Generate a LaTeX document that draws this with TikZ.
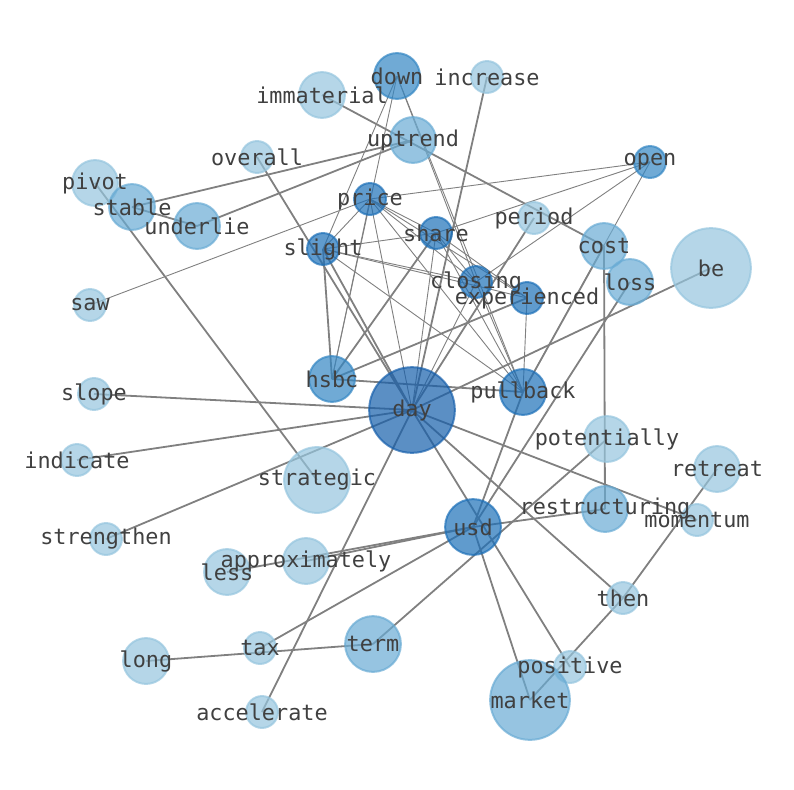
\documentclass[tikz,border=0pt]{standalone}
\usepackage{fontspec}
\setmonofont{DejaVu Sans Mono}
\usepackage{tikz}
\pgfdeclarelayer{background}
\pgfsetlayers{background,main}
\definecolor{blueA}{RGB}{149,197,222}
\definecolor{blueB}{RGB}{105,171,212}
\definecolor{blueC}{RGB}{51,134,195}
\definecolor{blueD}{RGB}{29,112,184}
\definecolor{blueE}{RGB}{22,95,171}

\begin{document}
\begin{tikzpicture}[x=1bp,y=-1bp,
  tok/.style={circle,minimum size=#1,inner sep=0pt,line width=2bp,draw opacity=.7,fill opacity=.7},
  cA/.style={draw=blueA,fill=blueA},
  cB/.style={draw=blueB,fill=blueB},
  cC/.style={draw=blueC,fill=blueC},
  cD/.style={draw=blueD,fill=blueD},
  cE/.style={draw=blueE,fill=blueE},
  lnk/.style={draw=black!50,line width=0.9bp},
  lnkw/.style={draw=black!50,line width=1.8bp},
  lbl/.style={inner sep=0pt,text=black!75,font=\ttfamily\fontsize{21.9}{26}\selectfont}]
\useasboundingbox (0,0) rectangle (794,790);
\node[tok=46,cC] (down) at (397,76) {};
\node[tok=32,cA] (increase) at (487,77) {};
\node[tok=46,cA] (immaterial) at (322,95) {};
\node[tok=46,cB] (uptrend) at (413,140) {};
\node[tok=32,cA] (overall) at (257,157) {};
\node[tok=32,cC] (open) at (650,162) {};
\node[tok=46,cA] (pivot) at (95,183) {};
\node[tok=46,cB] (stable) at (132,207) {};
\node[tok=46,cB] (underlie) at (197,226) {};
\node[tok=32,cD] (price) at (370,199) {};
\node[tok=32,cA] (period) at (534,218) {};
\node[tok=32,cD] (share) at (436,233) {};
\node[tok=32,cD] (slight) at (323,249) {};
\node[tok=46,cB] (cost) at (604,246) {};
\node[tok=80,cA] (be) at (711,268) {};
\node[tok=46,cB] (loss) at (630,282) {};
\node[tok=32,cD] (closing) at (476,282) {};
\node[tok=32,cD] (experienced) at (527,298) {};
\node[tok=32,cA] (saw) at (90,305) {};
\node[tok=46,cC] (hsbc) at (332,379) {};
\node[tok=86,cE] (day) at (412,410) {};
\node[tok=46,cD] (pullback) at (523,392) {};
\node[tok=32,cA] (slope) at (94,394) {};
\node[tok=32,cA] (indicate) at (77,460) {};
\node[tok=46,cA] (potentially) at (607,439) {};
\node[tok=66,cA] (strategic) at (317,480) {};
\node[tok=46,cA] (retreat) at (717,469) {};
\node[tok=56,cD] (usd) at (473,527) {};
\node[tok=46,cB] (restructuring) at (605,509) {};
\node[tok=32,cA] (momentum) at (697,520) {};
\node[tok=32,cA] (strengthen) at (106,539) {};
\node[tok=46,cA] (approximately) at (306,561) {};
\node[tok=46,cA] (less) at (227,572) {};
\node[tok=32,cA] (then) at (623,598) {};
\node[tok=32,cA] (tax) at (260,648) {};
\node[tok=56,cB] (term) at (373,644) {};
\node[tok=46,cA] (long) at (146,661) {};
\node[tok=32,cA] (positive) at (570,667) {};
\node[tok=80,cB] (market) at (530,700) {};
\node[tok=32,cA] (accelerate) at (262,712) {};
\begin{pgfonlayer}{background}
\draw[lnk] (down.center) -- (slight.center);
\draw[lnk] (down.center) -- (hsbc.center);
\draw[lnk] (down.center) -- (closing.center);
\draw[lnk] (down.center) -- (pullback.center);
\draw[lnk] (price.center) -- (saw.center);
\draw[lnk] (price.center) -- (open.center);
\draw[lnk] (price.center) -- (slight.center);
\draw[lnk] (price.center) -- (share.center);
\draw[lnk] (price.center) -- (closing.center);
\draw[lnk] (price.center) -- (experienced.center);
\draw[lnk] (price.center) -- (pullback.center);
\draw[lnk] (price.center) -- (day.center);
\draw[lnk] (price.center) -- (hsbc.center);
\draw[lnk] (share.center) -- (slight.center);
\draw[lnk] (share.center) -- (open.center);
\draw[lnk] (share.center) -- (day.center);
\draw[lnk] (share.center) -- (closing.center);
\draw[lnk] (share.center) -- (experienced.center);
\draw[lnk] (share.center) -- (pullback.center);
\draw[lnk] (slight.center) -- (closing.center);
\draw[lnk] (slight.center) -- (experienced.center);
\draw[lnk] (slight.center) -- (pullback.center);
\draw[lnk] (open.center) -- (closing.center);
\draw[lnk] (open.center) -- (pullback.center);
\draw[lnk] (experienced.center) -- (pullback.center);
\draw[lnk] (closing.center) -- (pullback.center);
\draw[lnk] (closing.center) -- (day.center);
\draw[lnkw] (increase.center) -- (day.center);
\draw[lnkw] (immaterial.center) -- (cost.center);
\draw[lnkw] (uptrend.center) -- (stable.center);
\draw[lnkw] (uptrend.center) -- (underlie.center);
\draw[lnkw] (stable.center) -- (underlie.center);
\draw[lnkw] (overall.center) -- (day.center);
\draw[lnkw] (pivot.center) -- (strategic.center);
\draw[lnkw] (period.center) -- (day.center);
\draw[lnkw] (be.center) -- (day.center);
\draw[lnkw] (cost.center) -- (restructuring.center);
\draw[lnkw] (cost.center) -- (pullback.center);
\draw[lnkw] (loss.center) -- (usd.center);
\draw[lnkw] (usd.center) -- (pullback.center);
\draw[lnkw] (slight.center) -- (hsbc.center);
\draw[lnkw] (slight.center) -- (day.center);
\draw[lnkw] (share.center) -- (hsbc.center);
\draw[lnkw] (hsbc.center) -- (pullback.center);
\draw[lnkw] (hsbc.center) -- (experienced.center);
\draw[lnkw] (day.center) -- (slope.center);
\draw[lnkw] (day.center) -- (indicate.center);
\draw[lnkw] (day.center) -- (strengthen.center);
\draw[lnkw] (day.center) -- (accelerate.center);
\draw[lnkw] (day.center) -- (positive.center);
\draw[lnkw] (day.center) -- (then.center);
\draw[lnkw] (day.center) -- (momentum.center);
\draw[lnkw] (usd.center) -- (restructuring.center);
\draw[lnkw] (usd.center) -- (approximately.center);
\draw[lnkw] (usd.center) -- (less.center);
\draw[lnkw] (usd.center) -- (tax.center);
\draw[lnkw] (usd.center) -- (market.center);
\draw[lnkw] (term.center) -- (potentially.center);
\draw[lnkw] (long.center) -- (term.center);
\draw[lnkw] (market.center) -- (then.center);
\draw[lnkw] (then.center) -- (retreat.center);
\end{pgfonlayer}
\node[lbl] (t-down) at (down) {down};
\node[lbl] (t-increase) at (increase) {increase};
\node[lbl] (t-immaterial) at (immaterial) {immaterial};
\node[lbl] (t-uptrend) at (uptrend) {uptrend};
\node[lbl] (t-overall) at (overall) {overall};
\node[lbl] (t-open) at (open) {open};
\node[lbl] (t-pivot) at (pivot) {pivot};
\node[lbl] (t-stable) at (stable) {stable};
\node[lbl] (t-underlie) at (underlie) {underlie};
\node[lbl] (t-price) at (price) {price};
\node[lbl] (t-period) at (period) {period};
\node[lbl] (t-share) at (share) {share};
\node[lbl] (t-slight) at (slight) {slight};
\node[lbl] (t-cost) at (cost) {cost};
\node[lbl] (t-be) at (be) {be};
\node[lbl] (t-loss) at (loss) {loss};
\node[lbl] (t-closing) at (closing) {closing};
\node[lbl] (t-experienced) at (experienced) {experienced};
\node[lbl] (t-saw) at (saw) {saw};
\node[lbl] (t-hsbc) at (hsbc) {hsbc};
\node[lbl] (t-day) at (day) {day};
\node[lbl] (t-pullback) at (pullback) {pullback};
\node[lbl] (t-slope) at (slope) {slope};
\node[lbl] (t-indicate) at (indicate) {indicate};
\node[lbl] (t-potentially) at (potentially) {potentially};
\node[lbl] (t-strategic) at (strategic) {strategic};
\node[lbl] (t-retreat) at (retreat) {retreat};
\node[lbl] (t-usd) at (usd) {usd};
\node[lbl] (t-restructuring) at (restructuring) {restructuring};
\node[lbl] (t-momentum) at (momentum) {momentum};
\node[lbl] (t-strengthen) at (strengthen) {strengthen};
\node[lbl] (t-approximately) at (approximately) {approximately};
\node[lbl] (t-less) at (less) {less};
\node[lbl] (t-then) at (then) {then};
\node[lbl] (t-tax) at (tax) {tax};
\node[lbl] (t-term) at (term) {term};
\node[lbl] (t-long) at (long) {long};
\node[lbl] (t-positive) at (positive) {positive};
\node[lbl] (t-market) at (market) {market};
\node[lbl] (t-accelerate) at (accelerate) {accelerate};
\end{tikzpicture}
\end{document}
